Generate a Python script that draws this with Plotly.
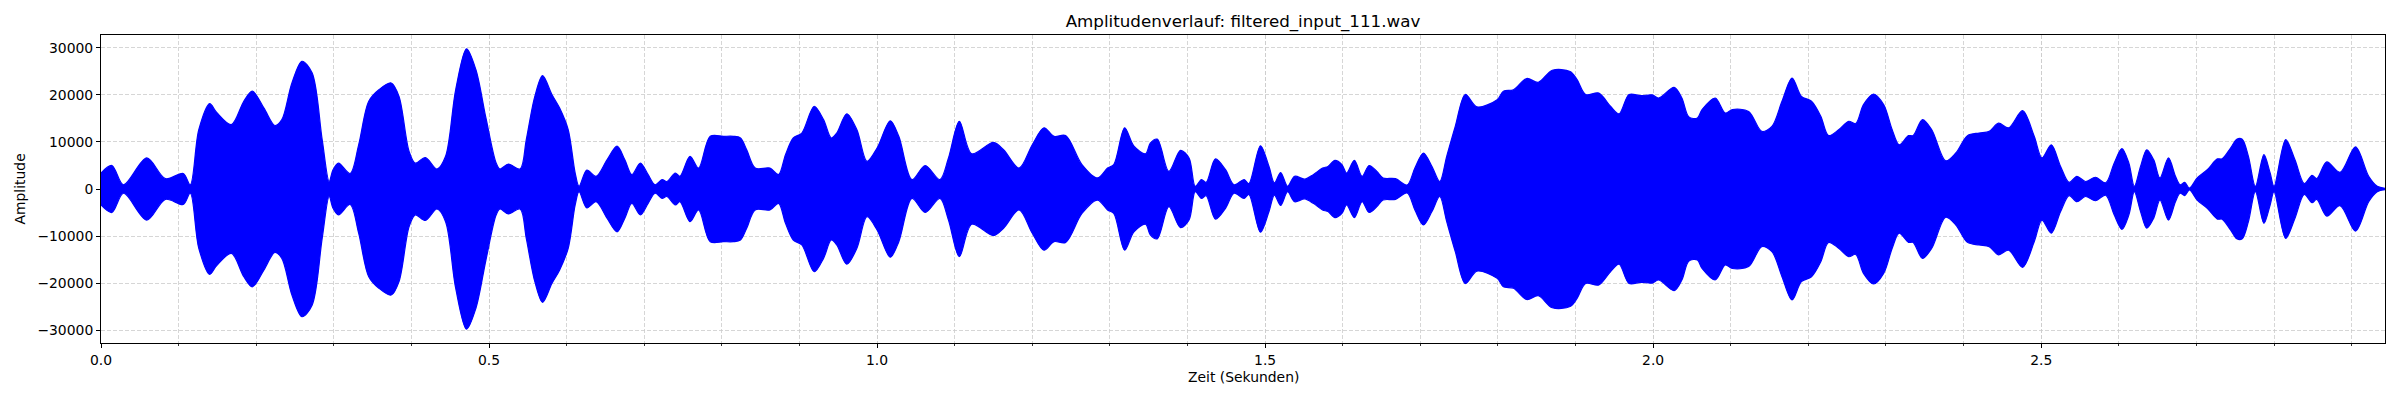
import plotly.graph_objects as go

# Envelope of the waveform (peak amplitude)
time_s = [
    0.000, 0.014, 0.029, 0.059, 0.083, 0.106, 0.115, 0.126, 0.140, 0.149,
    0.168, 0.184, 0.195, 0.210, 0.224, 0.233, 0.246, 0.259, 0.272, 0.285,
    0.294, 0.299, 0.306, 0.321, 0.332, 0.345, 0.358, 0.374, 0.384, 0.397,
    0.405, 0.418, 0.433, 0.444, 0.457, 0.471, 0.483, 0.496, 0.509, 0.514,
    0.525, 0.540, 0.548, 0.559, 0.569, 0.581, 0.591, 0.602, 0.611, 0.616,
    0.626, 0.638, 0.652, 0.665, 0.675, 0.684, 0.695, 0.705, 0.714, 0.723,
    0.729, 0.740, 0.746, 0.759, 0.770, 0.785, 0.802, 0.815, 0.824, 0.832,
    0.843, 0.862, 0.873, 0.882, 0.892, 0.903, 0.919, 0.931, 0.941, 0.948,
    0.961, 0.974, 0.987, 1.000, 1.017, 1.028, 1.045, 1.062, 1.081, 1.092,
    1.106, 1.122, 1.150, 1.163, 1.183, 1.200, 1.215, 1.228, 1.243, 1.264,
    1.284, 1.297, 1.305, 1.319, 1.331, 1.346, 1.352, 1.361, 1.376, 1.391,
    1.402, 1.410, 1.418, 1.424, 1.436, 1.449, 1.460, 1.473, 1.479, 1.494,
    1.505, 1.512, 1.520, 1.529, 1.538, 1.551, 1.562, 1.574, 1.581, 1.590,
    1.599, 1.605, 1.615, 1.625, 1.634, 1.644, 1.652, 1.668, 1.683, 1.693,
    1.704, 1.715, 1.725, 1.734, 1.745, 1.758, 1.773, 1.799, 1.807, 1.820,
    1.837, 1.852, 1.870, 1.893, 1.902, 1.913, 1.930, 1.945, 1.956, 1.969,
    1.984, 1.999, 2.007, 2.027, 2.037, 2.046, 2.057, 2.063, 2.080, 2.093,
    2.102, 2.123, 2.140, 2.153, 2.166, 2.179, 2.191, 2.204, 2.216, 2.226,
    2.239, 2.252, 2.261, 2.271, 2.284, 2.297, 2.308, 2.317, 2.329, 2.335,
    2.347, 2.359, 2.377, 2.390, 2.405, 2.420, 2.433, 2.445, 2.458, 2.476,
    2.491, 2.501, 2.513, 2.525, 2.536, 2.546, 2.557, 2.570, 2.583, 2.594,
    2.604, 2.613, 2.620, 2.628, 2.636, 2.645, 2.653, 2.664, 2.673, 2.679,
    2.685, 2.691, 2.701, 2.714, 2.727, 2.733, 2.744, 2.752, 2.759, 2.767,
    2.776, 2.787, 2.795, 2.800, 2.815, 2.827, 2.839, 2.849, 2.855, 2.868,
    2.885, 2.905, 2.922, 2.933, 2.943,
]

peak_amplitude = [
    3400, 5000, 900, 6600, 2200, 3300, 900, 12600, 18150, 16300,
    13700, 18650, 20800, 17200, 13500, 14750, 22550, 27160, 24700, 10500,
    1600, 4100, 5500, 3300, 9400, 18650, 21100, 22550, 19700, 8000,
    5500, 6700, 4250, 6950, 21100, 29800, 25400, 15100, 5600, 4250,
    5300, 4250, 10500, 19700, 24100, 20100, 17200, 12600, 3400, 570,
    4000, 2700, 6200, 9100, 6200, 3050, 5500, 3050, 900, 2000,
    1600, 3400, 2700, 6950, 4450, 11200, 11200, 11200, 10850, 8350,
    4450, 4450, 3050, 7300, 10850, 11900, 17600, 14750, 10850, 11900,
    16000, 12600, 5900, 8700, 14500, 11200, 2000, 5000, 2000, 6600,
    14400, 7500, 9900, 8350, 4450, 9400, 13000, 11200, 11350, 5200,
    2350, 4450, 5200, 13000, 9100, 7500, 9750, 10600, 3750, 8200,
    6600, 570, 2000, 1400, 6400, 4100, 900, 2000, 1150, 9200,
    4800, 1300, 3500, 570, 2700, 2100, 3050, 4450, 4800, 6100,
    5200, 3400, 6100, 2700, 5000, 3750, 2350, 2200, 850, 4450,
    7650, 4800, 1600, 6950, 13300, 20100, 17450, 19000, 20800, 21100,
    23500, 22700, 25250, 25000, 23250, 20100, 20400, 17600, 16000, 20100,
    19850, 20000, 19350, 21600, 19350, 15300, 15100, 16900, 19350, 16150,
    16900, 16500, 12250, 13300, 18650, 23600, 19700, 18650, 15450, 11350,
    12600, 14400, 13900, 17950, 20200, 17950, 12600, 9400, 11350, 11350,
    14750, 12600, 6000, 7650, 11350, 11900, 12250, 14000, 13000, 16650,
    11200, 6600, 9400, 4800, 1400, 2700, 1600, 2500, 1300, 5500,
    8600, 5500, 570, 4800, 8350, 6200, 2350, 6600, 2700, 900,
    1400, 200, 2350, 4100, 6400, 6400, 8700, 10600, 10600, 6950,
    570, 7300, 3400, 570, 10500, 6200, 1150, 2900, 2200, 5750,
    3550, 8950, 2700, 570, 150,
]

duration_s = 2.943
y_limit = 32750
x_tick_values = [0.0, 0.5, 1.0, 1.5, 2.0, 2.5]
y_tick_values = [-30000, -20000, -10000, 0, 10000, 20000, 30000]

title_text = "Amplitudenverlauf: filtered_input_111.wav"
x_label = "Zeit (Sekunden)"
y_label = "Amplitude"

# the waveform is symmetric: it fills between +peak and -peak
upper = peak_amplitude
lower = [-a for a in peak_amplitude]

FONT = "DejaVu Sans"
BLUE = "#0000ff"
GRID = "#cccccc"

W, H = 2400, 400
ML, MR, MT, MB = 101, 15, 35, 57
plot_w = W - ML - MR
plot_h = H - MT - MB

fig = go.Figure()
fig.add_trace(go.Scatter(
    x=time_s, y=upper, mode="lines",
    line=dict(color=BLUE, width=1.2, shape="spline", smoothing=0.9),
    showlegend=False, hoverinfo="skip",
))
fig.add_trace(go.Scatter(
    x=time_s, y=lower, mode="lines",
    line=dict(color=BLUE, width=1.2, shape="spline", smoothing=0.9),
    fill="tonexty", fillcolor=BLUE,
    showlegend=False, hoverinfo="skip",
))

axis_common = dict(
    showline=True, linecolor="black", linewidth=1, mirror=True,
    ticks="outside", ticklen=4, tickwidth=1, tickcolor="black",
    showgrid=True, gridcolor=GRID, gridwidth=0.8, griddash="4px,2px",
    zeroline=False,
    tickfont=dict(family=FONT, size=13.9, color="black"),
)

fig.update_xaxes(
    range=[0, duration_s], tickmode="array", tickvals=x_tick_values,
    tickformat=".1f",
    minor=dict(dtick=0.1, tick0=0, ticks="outside", ticklen=2, tickwidth=0.8,
               tickcolor="black", showgrid=True, gridcolor=GRID,
               gridwidth=0.8, griddash="4px,2px"),
    **axis_common,
)
fig.update_yaxes(
    range=[-y_limit, y_limit], tickmode="array", tickvals=y_tick_values,
    tickformat="d",
    **axis_common,
)

fig.update_layout(
    width=W, height=H,
    margin=dict(l=ML, r=MR, t=MT, b=MB),
    paper_bgcolor="white", plot_bgcolor="white",
    font=dict(family=FONT, color="black"),
    hovermode=False,
    title=dict(text=title_text, x=0.5, xref="paper", xanchor="center",
               y=1 - 21.4 / H, yref="container", yanchor="middle",
               font=dict(family=FONT, size=16.7, color="black")),
    annotations=[
        dict(text=x_label, xref="paper", yref="paper", x=0.5,
             y=-(377 - (H - MB)) / plot_h, xanchor="center", yanchor="middle",
             showarrow=False, font=dict(family=FONT, size=13.9, color="black")),
        dict(text=y_label, xref="paper", yref="paper",
             x=-(ML - 19.5) / plot_w, y=0.5, textangle=-90,
             xanchor="center", yanchor="middle",
             showarrow=False, font=dict(family=FONT, size=13.9, color="black")),
    ],
)

fig.write_html(
    "out.html",
    config={"displayModeBar": False, "staticPlot": True},
    post_script="document.body.style.margin='0';document.body.style.overflow='hidden';",
)
